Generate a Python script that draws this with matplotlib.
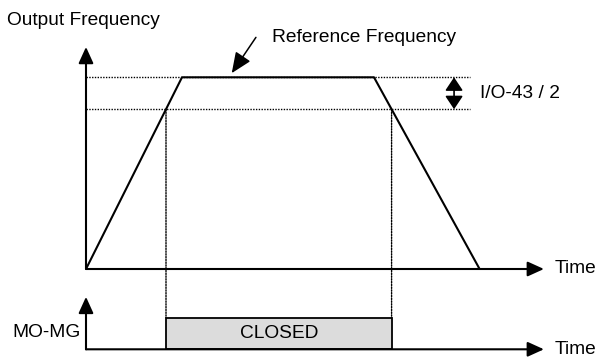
import matplotlib.pyplot as plt
from matplotlib.patches import Rectangle, ConnectionPatch

plt.rcParams['font.family'] = ['Liberation Sans', 'DejaVu Sans']

# --- data (time in s, frequency in Hz) ---
ramp_time = [0, 5, 15, 20.5]
ramp_freq = [0, 60, 60, 0]
ref_freq = 60
band_half = 10          # I/O-43 / 2
detect_freq = ref_freq - band_half
time_axis_end = 23.85
freq_axis_end = 69.5
state_axis_end = 1.66
dotted_end = 20

# times where the ramp crosses the detect level
t_on = ramp_time[0] + (ramp_time[1] - ramp_time[0]) * detect_freq / ref_freq
t_off = ramp_time[2] + (ramp_time[3] - ramp_time[2]) * band_half / ref_freq

fig = plt.figure(figsize=(5.98, 3.60), dpi=100)

# main chart, axes spans whole figure
ax = fig.add_axes([0, 0, 1, 1])
ax.set_xlim(-86 / 19.2, 512 / 19.2)
ax.set_ylim(-91 / 3.195, 269 / 3.195)
ax.axis('off')

# bottom MO-MG chart
ax2 = fig.add_axes([0, 0, 1, 1], sharex=ax)
ax2.set_ylim(-10.7 / 31.6, 349.3 / 31.6)
ax2.axis('off')
ax2.patch.set_alpha(0)

line_kw = dict(color='black', lw=1.5, solid_capstyle='butt')
dot_style = (0, (1, 1))
dot_kw = dict(color='black', lw=1.0, linestyle=dot_style)
axis_arrow = dict(arrowstyle='-|>,head_length=0.55,head_width=0.25', color='black',
                  lw=1.5, mutation_scale=18, shrinkA=0, shrinkB=0)

# axes arrows
ax.annotate('', xy=(time_axis_end, 0), xytext=(0, 0), arrowprops=axis_arrow)
ax.annotate('', xy=(0, freq_axis_end), xytext=(0, 0), arrowprops=axis_arrow)
ax2.annotate('', xy=(time_axis_end, 0), xytext=(0, 0), arrowprops=axis_arrow)
ax2.annotate('', xy=(0, state_axis_end), xytext=(0, 0), arrowprops=axis_arrow)

# reference levels
ax.plot([0, dotted_end], [ref_freq, ref_freq], **dot_kw)
ax.plot([0, dotted_end], [detect_freq, detect_freq], **dot_kw)

# output frequency ramp
ax.plot(ramp_time, ramp_freq, **line_kw)

# vertical dotted lines down to the relay box
for t in [t_on, t_off]:
    con = ConnectionPatch(xyA=(t, detect_freq), coordsA=ax.transData,
                          xyB=(t, 1), coordsB=ax2.transData,
                          color='black', lw=1.0, linestyle=dot_style)
    fig.add_artist(con)

# relay closed box
ax2.add_patch(Rectangle((t_on, 0), t_off - t_on, 1, facecolor='#dcdcdc',
                        edgecolor='black', lw=1.3))
ax2.text((t_on + t_off) / 2, 0.5, 'CLOSED', ha='center', va='center', fontsize=13.8)

# I/O-43 / 2 double arrow
ax.annotate('', xy=(19.17, ref_freq), xytext=(19.17, detect_freq),
            arrowprops=dict(arrowstyle='<|-|>,head_length=0.45,head_width=0.3',
                            color='black', lw=1.2, mutation_scale=18,
                            shrinkA=0, shrinkB=0))
ax.text(20.52, (ref_freq + detect_freq) / 2, 'I/O-43 / 2', ha='left', va='center',
        fontsize=13.8)

# reference frequency pointer
ax.annotate('', xy=(7.59, 61.3), xytext=(8.85, 72.5),
            arrowprops=dict(arrowstyle='-|>,head_length=0.7,head_width=0.3',
                            color='black', lw=1.1, mutation_scale=18,
                            shrinkA=0, shrinkB=0))
ax.text(9.67, 72.4, 'Reference Frequency', ha='left', va='center', fontsize=13.8)

# labels
ax.text(-4.11, 77.9, 'Output Frequency', ha='left', va='center', fontsize=13.8)
ax.text(24.43, 0.2, 'Time', ha='left', va='center', fontsize=13.8)
ax2.text(24.43, 0.0, 'Time', ha='left', va='center', fontsize=13.8)
ax2.text(-0.26, 0.52, 'MO-MG', ha='right', va='center', fontsize=13.8)

plt.savefig('out.png', dpi=100)
